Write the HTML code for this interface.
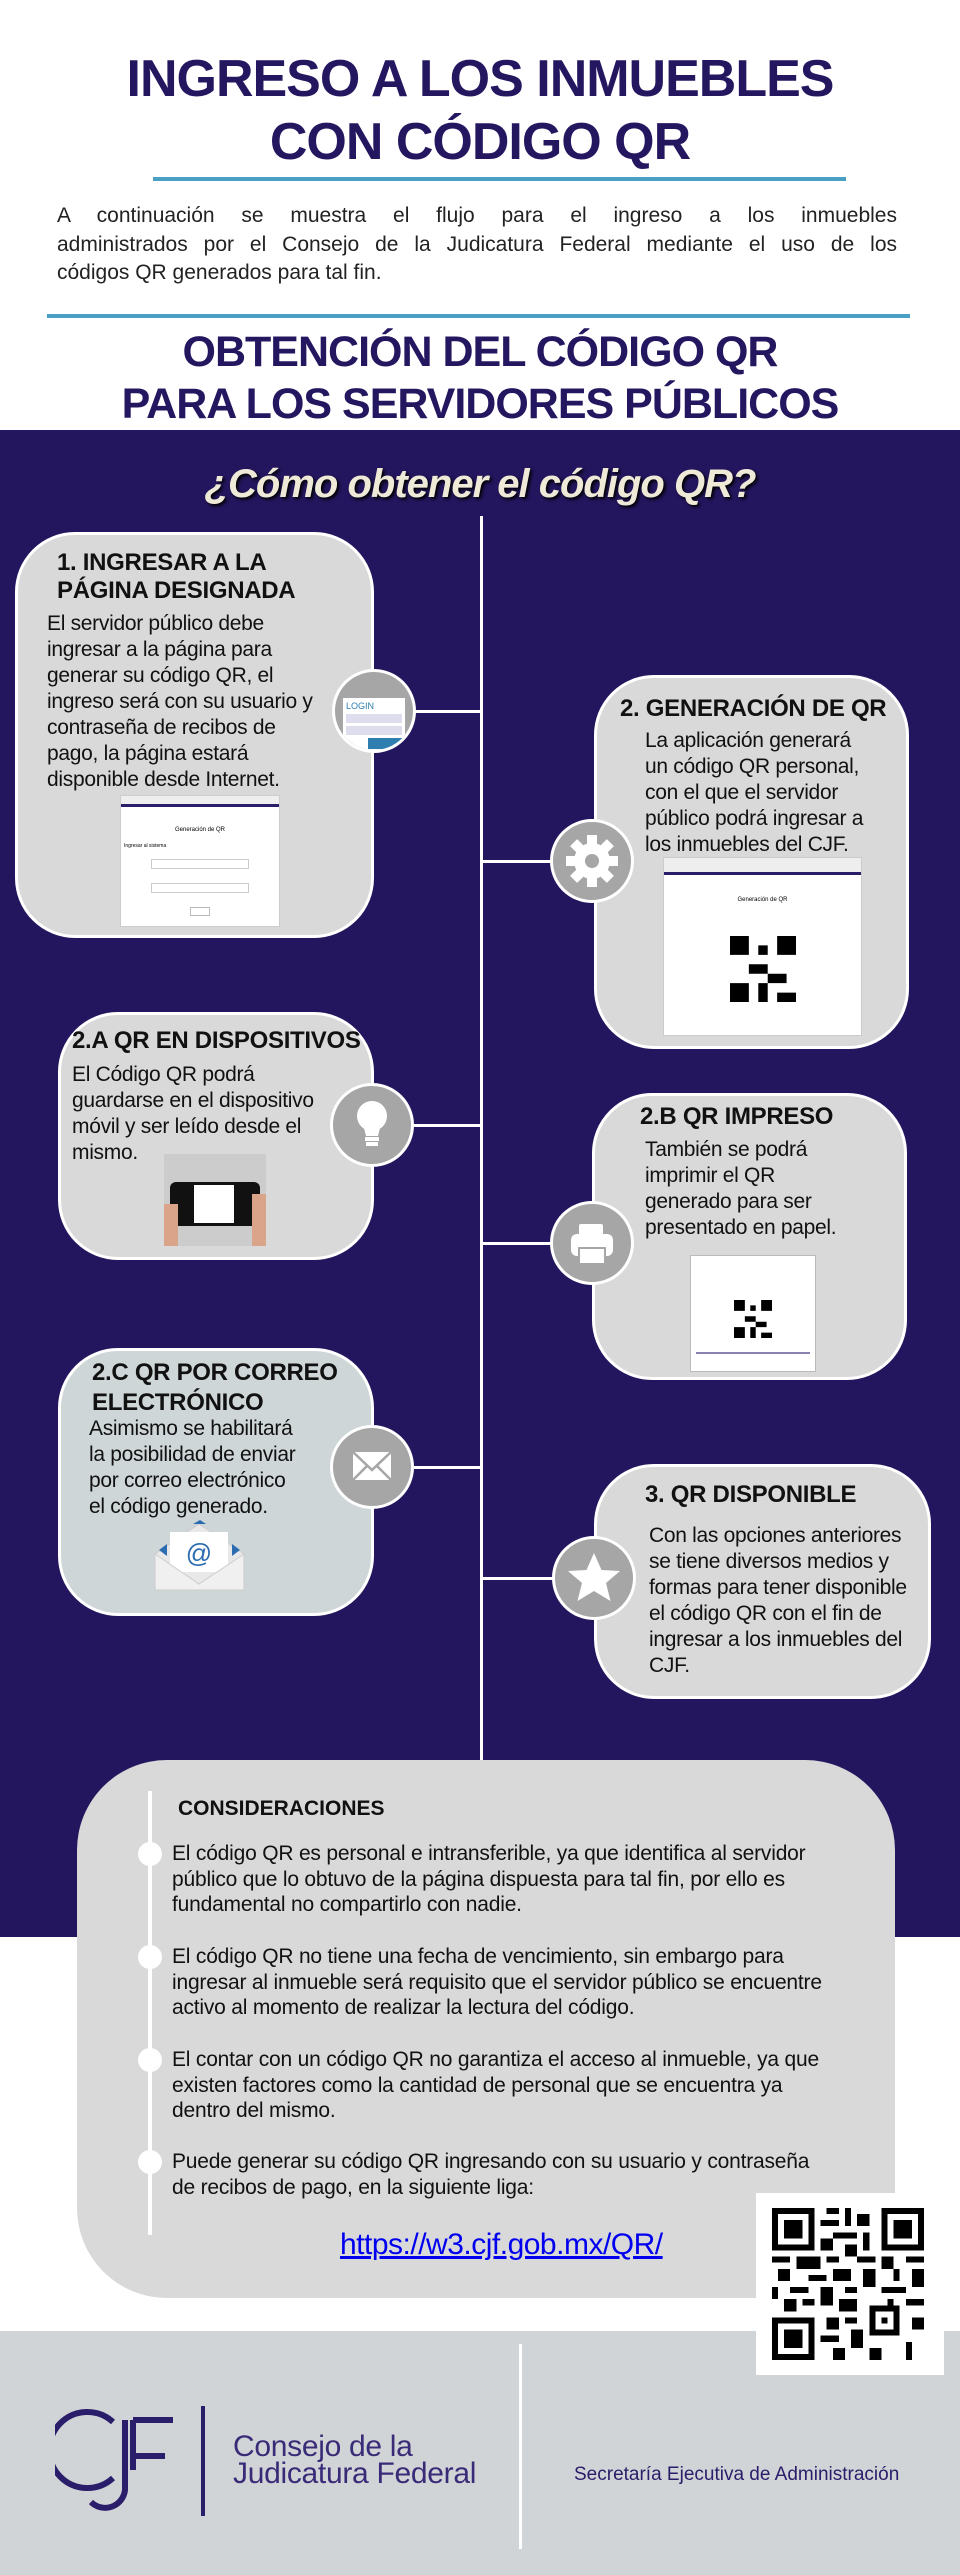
<!DOCTYPE html>
<html><head><meta charset="utf-8">
<style>
*{margin:0;padding:0;box-sizing:border-box}
body{width:960px;height:2575px;position:relative;background:#fff;font-family:"Liberation Sans",Arial,sans-serif;overflow:hidden}
.a{position:absolute}
.h1{color:#251660;font-weight:bold;font-size:52px;text-align:center;width:960px;left:0;letter-spacing:-1px;white-space:nowrap}
.h2{color:#251660;font-weight:bold;font-size:43px;text-align:center;width:960px;left:0;letter-spacing:-1px;white-space:nowrap}
.rule{background:#4aa0c4;height:4px}
.p{font-size:21px;color:#222;left:57px;width:840px;text-align:justify;text-align-last:justify;line-height:28px;height:28px;white-space:nowrap;overflow:visible}
.box{background:#d9d9d9;border:3px solid #fff;border-radius:60px}
.t{font-weight:bold;font-size:24px;color:#111;white-space:nowrap;letter-spacing:-0.3px}
.b{font-size:21px;color:#111;white-space:nowrap;line-height:26px;letter-spacing:-0.3px}
.c{width:84px;height:84px;border-radius:50%;background:#a6a6a6;border:3px solid #fff}
.con{background:#fff;height:3px}
.ct{font-size:21px;color:#111;white-space:nowrap;line-height:25.7px;left:172px;letter-spacing:-0.2px}
.dot{width:24px;height:24px;border-radius:50%;background:#fff;left:138px}
</style></head><body>

<div class="a h1" style="top:51px;line-height:56px">INGRESO A LOS INMUEBLES</div>
<div class="a h1" style="top:114px;line-height:56px">CON CÓDIGO QR</div>
<div class="a rule" style="left:153px;width:693px;top:177px"></div>
<div class="a p" style="top:202px">A continuación se muestra el flujo para el ingreso a los inmuebles</div>
<div class="a p" style="top:231px">administrados por el Consejo de la Judicatura Federal mediante el uso de los</div>
<div class="a p" style="top:259px;text-align-last:left">códigos QR generados para tal fin.</div>
<div class="a rule" style="left:47px;width:863px;top:314px"></div>
<div class="a h2" style="top:329px;line-height:46px">OBTENCIÓN DEL CÓDIGO QR</div>
<div class="a h2" style="top:381px;line-height:46px">PARA LOS SERVIDORES PÚBLICOS</div>

<div class="a" style="left:0;top:430px;width:960px;height:1507px;background:#24165e"></div>
<div class="a" style="left:0;top:2331px;width:960px;height:244px;background:#d0d4d6"></div>

<div class="a" style="left:0;width:960px;text-align:center;top:462px;font-size:40px;font-weight:bold;font-style:italic;color:#efead8;text-shadow:2px 2px 3px #000;letter-spacing:-1px">¿Cómo obtener el código QR?</div>

<div class="a" style="left:480px;top:516px;width:3px;height:1250px;background:#fff"></div>

<div class="a con" style="left:414px;top:710px;width:68px"></div>
<div class="a con" style="left:480px;top:860px;width:72px"></div>
<div class="a con" style="left:414px;top:1124px;width:68px"></div>
<div class="a con" style="left:480px;top:1242px;width:72px"></div>
<div class="a con" style="left:414px;top:1466px;width:68px"></div>
<div class="a con" style="left:480px;top:1577px;width:74px"></div>

<div class="a box" style="left:15px;top:532px;width:359px;height:406px"></div>
<div class="a t" style="left:57px;top:549px;line-height:28px">1. INGRESAR A LA<br>PÁGINA DESIGNADA</div>
<div class="a b" style="left:47px;top:611px">El servidor público debe<br>ingresar a la página para<br>generar su código QR, el<br>ingreso será con su usuario y<br>contraseña de recibos de<br>pago, la página estará<br>disponible desde Internet.</div>
<div class="a" style="left:120px;top:795px;width:160px;height:132px;background:#fff;border:1px solid #ccc">
<div style="height:8px;background:#eee"></div><div style="height:3px;background:#2a1d6a"></div>
<div style="font-size:6px;text-align:center;margin-top:20px">Generación de QR</div>
<div style="font-size:5px;margin:10px 3px">Ingresar al sistema</div>
<div style="margin:8px 30px;height:10px;border:1px solid #ccc"></div>
<div style="margin:14px 30px;height:10px;border:1px solid #ccc"></div>
<div style="margin:6px auto;width:20px;height:9px;border:1px solid #bbb"></div></div>
<div class="a c" style="left:332px;top:669px;overflow:hidden">
<div style="position:absolute;left:8px;top:26px;width:62px;height:56px;background:#fff;font-size:9px;color:#2e7fb0;padding:3px">LOGIN<div style="height:9px;background:#dde;margin:3px 0"></div><div style="height:9px;background:#dde"></div><div style="width:34px;height:11px;background:#2e7fb0;margin:3px 0 0 22px"></div></div></div>

<div class="a box" style="left:594px;top:675px;width:315px;height:374px"></div>
<div class="a t" style="left:620px;top:695px;line-height:28px">2. GENERACIÓN DE QR</div>
<div class="a b" style="left:645px;top:728px">La aplicación generará<br>un código QR personal,<br>con el que el servidor<br>público podrá ingresar a<br>los inmuebles del CJF.</div>
<div class="a" style="left:663px;top:857px;width:199px;height:179px;background:#fff;border:1px solid #ccc">
<div style="height:14px;background:#eee"></div><div style="height:3px;background:#2a1d6a"></div>
<div style="font-size:6px;text-align:center;margin-top:22px">Generación de QR</div>
<svg style="position:absolute;left:66px;top:78px" width="66" height="66" viewBox="0 0 7 7"><rect width="7" height="7" fill="#fff"/><path d="M0 0h2v2H0zM5 0h2v2H5zM0 5h2v2H0zM3 1h1v1H3zM2 3h2v1H2zM4 4h2v1H4zM3 5h1v2H3zM5 6h2v1H5z" fill="#000"/></svg></div>
<div class="a c" style="left:550px;top:819px"><svg width="78" height="78" viewBox="0 0 78 78"><g fill="#fff" transform="translate(39 39)"><circle r="18"/><g><rect x="-5" y="-26" width="10" height="52"/><rect x="-26" y="-5" width="52" height="10"/><rect x="-5" y="-26" width="10" height="52" transform="rotate(45)"/><rect x="-5" y="-26" width="10" height="52" transform="rotate(-45)"/></g></g><circle cx="39" cy="39" r="7" fill="#a6a6a6"/></svg></div>

<div class="a box" style="left:58px;top:1012px;width:316px;height:248px"></div>
<div class="a t" style="left:72px;top:1027px;line-height:28px">2.A QR EN DISPOSITIVOS</div>
<div class="a b" style="left:72px;top:1062px">El Código QR podrá<br>guardarse en el dispositivo<br>móvil y ser leído desde el<br>mismo.</div>
<div class="a" style="left:164px;top:1154px;width:102px;height:92px;background:#ccc"><div style="position:absolute;left:6px;top:28px;width:90px;height:44px;background:#111;border-radius:6px"><div style="position:absolute;left:24px;top:3px;width:40px;height:38px;background:#fff"></div></div><div style="position:absolute;left:0;top:50px;width:14px;height:42px;background:#d9a48a"></div><div style="position:absolute;right:0;top:40px;width:14px;height:52px;background:#d9a48a"></div></div>
<div class="a c" style="left:330px;top:1083px"><svg width="78" height="78" viewBox="0 0 78 78" fill="#fff"><circle cx="39" cy="30" r="15"/><path d="M30 38h18l-3 12h-12z"/><rect x="32" y="51" width="14" height="4"/><rect x="33" y="56" width="12" height="4"/></svg></div>

<div class="a box" style="left:592px;top:1093px;width:315px;height:287px"></div>
<div class="a t" style="left:640px;top:1103px;line-height:28px">2.B QR IMPRESO</div>
<div class="a b" style="left:645px;top:1137px">También se podrá<br>imprimir el QR<br>generado para ser<br>presentado en papel.</div>
<div class="a" style="left:690px;top:1255px;width:126px;height:117px;background:#fff;border:1px solid #bbb">
<svg style="position:absolute;left:43px;top:44px" width="38" height="38" viewBox="0 0 7 7"><path d="M0 0h2v2H0zM5 0h2v2H5zM0 5h2v2H0zM3 1h1v1H3zM2 3h2v1H2zM4 4h2v1H4zM3 5h1v2H3zM5 6h2v1H5z"/></svg>
<div style="position:absolute;left:5px;top:96px;width:114px;height:2px;background:#8a82b0"></div></div>
<div class="a c" style="left:550px;top:1201px"><svg width="78" height="78" viewBox="0 0 78 78" fill="#fff"><rect x="26" y="20" width="24" height="12" rx="2"/><rect x="18" y="30" width="42" height="22" rx="6"/><rect x="26" y="44" width="26" height="16" fill="#fff" stroke="#a6a6a6" stroke-width="2"/></svg></div>

<div class="a box" style="left:58px;top:1348px;width:316px;height:268px;background:#cfd6d8"></div>
<div class="a t" style="left:92px;top:1358px;line-height:30px">2.C QR POR CORREO<br>ELECTRÓNICO</div>
<div class="a b" style="left:89px;top:1416px">Asimismo se habilitará<br>la posibilidad de enviar<br>por correo electrónico<br>el código generado.</div>
<div class="a" style="left:153px;top:1520px;width:93px;height:72px"><svg width="93" height="72" viewBox="0 0 93 72"><path d="M2 34L46 4 91 34V70H2z" fill="#e8e8e8" stroke="#ccc"/><rect x="17" y="12" width="58" height="40" fill="#fff"/><text x="46" y="42" font-size="26" fill="#2b6cb0" text-anchor="middle" font-family="Liberation Sans">@</text><path d="M2 34L46 64 91 34V70H2z" fill="#f0f0f0" stroke="#ccc"/><path d="M6 30l8-6v12zM87 30l-8-6v12zM40 4h13l-6-4z" fill="#2b6cb0"/></svg></div>
<div class="a c" style="left:330px;top:1425px"><svg width="78" height="78" viewBox="0 0 78 78"><rect x="20" y="24" width="38" height="28" fill="#fff"/><path d="M20 24l19 18 19-18M20 52l14-14M58 52l-14-14" stroke="#a6a6a6" stroke-width="2.5" fill="none"/></svg></div>

<div class="a box" style="left:594px;top:1464px;width:337px;height:235px"></div>
<div class="a t" style="left:645px;top:1481px;line-height:28px">3. QR DISPONIBLE</div>
<div class="a b" style="left:649px;top:1523px">Con las opciones anteriores<br>se tiene diversos medios y<br>formas para tener disponible<br>el código QR con el fin de<br>ingresar a los inmuebles del<br>CJF.</div>
<div class="a c" style="left:552px;top:1536px"><svg width="78" height="78" viewBox="0 0 78 78"><polygon points="39,14 46.5,31 65,32 51,44 55.5,62 39,52 22.5,62 27,44 13,32 31.5,31" fill="#fff"/></svg></div>

<div class="a" style="left:77px;top:1760px;width:818px;height:538px;background:#d9d9d9;border-radius:90px"></div>
<div class="a" style="left:148px;top:1791px;width:4px;height:444px;background:#fff"></div>
<div class="a dot" style="top:1842px"></div>
<div class="a dot" style="top:1945px"></div>
<div class="a dot" style="top:2048px"></div>
<div class="a dot" style="top:2150px"></div>
<div class="a" style="left:178px;top:1797px;font-weight:bold;font-size:21px;color:#111">CONSIDERACIONES</div>
<div class="a ct" style="top:1841px">El código QR es personal e intransferible, ya que identifica al servidor<br>público que lo obtuvo de la página dispuesta para tal fin, por ello es<br>fundamental no compartirlo con nadie.</div>
<div class="a ct" style="top:1944px">El código QR no tiene una fecha de vencimiento, sin embargo para<br>ingresar al inmueble será requisito que el servidor público se encuentre<br>activo al momento de realizar la lectura del código.</div>
<div class="a ct" style="top:2047px">El contar con un código QR no garantiza el acceso al inmueble, ya que<br>existen factores como la cantidad de personal que se encuentra ya<br>dentro del mismo.</div>
<div class="a ct" style="top:2149px">Puede generar su código QR ingresando con su usuario y contraseña<br>de recibos de pago, en la siguiente liga:</div>
<div class="a" style="left:340px;top:2228px;font-size:30px;color:#0000ee;text-decoration:underline;letter-spacing:-0.5px">https://w3.cjf.gob.mx/QR/</div>

<div class="a" style="left:756px;top:2193px;width:188px;height:182px;background:#fff"></div>
<svg class="a" style="left:772px;top:2208px" width="152" height="152" viewBox="0 0 25 25" shape-rendering="crispEdges"><g fill="#000"><path d="M0 0h7v7H0zM18 0h7v7h-7zM0 18h7v7H0z"/></g><g fill="#fff"><path d="M1 1h5v5H1zM19 1h5v5h-5zM1 19h5v5H1z"/></g><g fill="#000"><path d="M2 2h3v3H2zM20 2h3v3h-3zM2 20h3v3H2zM16 16h5v5h-5z"/><path d="M9 0h2v1H9zM12 0h1v3h-1zM14 1h2v2h-2zM8 2h3v1H8zM10 4h4v1h-4zM15 4h1v3h-1zM8 5h2v2H8zM12 6h2v2h-2zM0 8h3v1H0zM4 8h4v2H4zM9 8h2v1H9zM14 8h3v1h-3zM18 8h2v2h-2zM22 8h3v1h-3zM1 10h2v2H1zM6 11h3v1H6zM10 10h3v2h-3zM15 10h2v3h-2zM20 10h1v2h-1zM23 10h2v3h-2zM0 13h1v2H0zM3 13h3v1H3zM8 13h2v3H8zM12 13h2v1h-2zM18 13h4v1h-4zM2 15h2v2H2zM5 15h2v1H5zM11 15h3v2h-3zM19 15h1v1h-1zM22 15h3v1h-3zM9 18h2v2H9zM12 18h2v1h-2zM8 21h3v1H8zM13 20h2v3h-2zM10 23h2v2h-2zM16 23h2v2h-2zM22 22h1v3h-1zM23 18h2v2h-2z"/></g><rect x="17" y="17" width="3" height="3" fill="#fff"/><rect x="18" y="18" width="1" height="1"/></svg>

<div class="a" style="left:519px;top:2344px;width:3px;height:205px;background:#fff"></div>
<svg class="a" style="left:55px;top:2408px" width="125" height="110" viewBox="0 0 125 110"><g fill="none" stroke="#2a1d6a" stroke-width="6"><path d="M58 14A38 38 0 1 0 58 70"/><path d="M70 12v70a20 20 0 0 1-34 12"/><path d="M78 12h40M78 48h32M78 12v50"/></g></svg>
<div class="a" style="left:201px;top:2406px;width:4px;height:110px;background:#2a1d6a"></div>
<div class="a" style="left:233px;top:2433px;font-size:30px;line-height:27px;color:#3a2b78;letter-spacing:-0.3px">Consejo de la<br>Judicatura Federal</div>
<div class="a" style="left:574px;top:2464px;font-size:19px;color:#2a1d6a">Secretaría Ejecutiva de Administración</div>
</body></html>
